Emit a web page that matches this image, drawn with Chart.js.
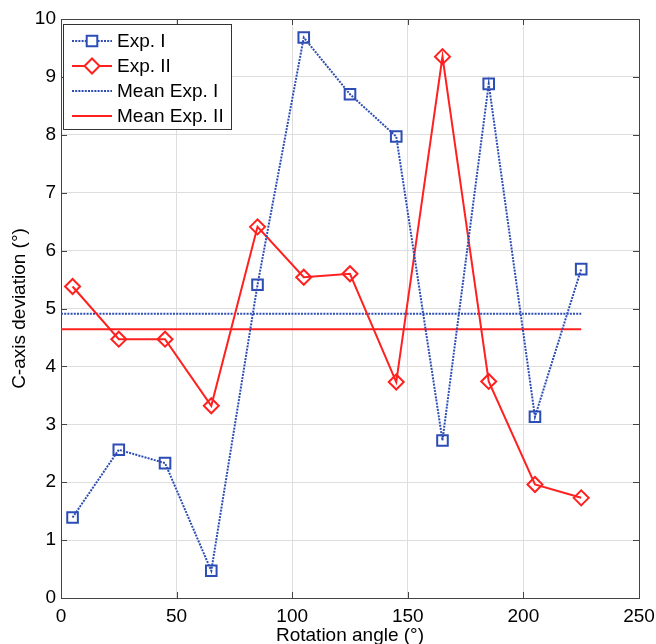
<!DOCTYPE html>
<html>
<head>
<meta charset="utf-8">
<title>C-axis deviation vs rotation angle</title>
<script src="https://cdn.jsdelivr.net/npm/chart.js@4"></script>
<style>
  html, body { margin: 0; padding: 0; background: #fff; }
  canvas { display: block; }
</style>
</head>
<body>
<canvas id="devChart" width="656" height="644"></canvas>
<script>
/* ── data ── */
const angles    = [5, 25, 45, 65, 85, 105, 125, 145, 165, 185, 205, 225];
const expI      = [1.39, 2.56, 2.33, 0.47, 5.41, 9.68, 8.70, 7.97, 2.72, 8.88, 3.13, 5.68];
const expII     = [5.38, 4.47, 4.47, 3.32, 6.41, 5.54, 5.60, 3.73, 9.35, 3.74, 1.96, 1.73];
const meanExpI  = 4.91;
const meanExpII = 4.64;
const meanSpan  = [0, 225];
const seriesLabels = ['Exp. I', 'Exp. II', 'Mean Exp. I', 'Mean Exp. II'];

const FONT  = "'Liberation Sans', Arial, sans-serif";
const BLUE  = '#2c4db5';
const RED   = '#ff2020';
const DOTS  = [2, 1.2];

const pts = (xs, ys) => xs.map((x, i) => ({ x: x, y: ys[i] }));

// frame + inward ticks (matlab style)
const framePlugin = {
  id: 'frame',
  beforeDatasetsDraw(chart) {
    const { ctx, chartArea: a, scales } = chart;
    const len = 6;
    ctx.save();
    ctx.strokeStyle = '#444';
    ctx.lineWidth = 1;
    ctx.beginPath();
    scales.x.ticks.forEach(t => {
      const px = Math.round(scales.x.getPixelForValue(t.value)) + 0.5;
      ctx.moveTo(px, a.bottom); ctx.lineTo(px, a.bottom - len);
      ctx.moveTo(px, a.top);    ctx.lineTo(px, a.top + len);
    });
    scales.y.ticks.forEach(t => {
      const py = Math.round(scales.y.getPixelForValue(t.value)) + 0.5;
      ctx.moveTo(a.left, py);  ctx.lineTo(a.left + len, py);
      ctx.moveTo(a.right, py); ctx.lineTo(a.right - len, py);
    });
    ctx.stroke();
    ctx.strokeRect(Math.round(a.left) + 0.5, Math.round(a.top) + 0.5,
                   Math.round(a.right - a.left), Math.round(a.bottom - a.top));
    ctx.restore();
  }
};

// legend box in the upper-left corner of the plot
const boxLegend = {
  id: 'boxLegend',
  afterDraw(chart) {
    const { ctx, chartArea: a } = chart;
    const x0 = a.left + 2, y0 = a.top + 5, w = 168, h = 105;
    ctx.save();
    ctx.fillStyle = '#fff';
    ctx.fillRect(x0, y0, w, h);
    ctx.strokeStyle = '#333';
    ctx.lineWidth = 1;
    ctx.strokeRect(x0 + 0.5, y0 + 0.5, w, h);
    ctx.font = '19px ' + FONT;
    ctx.textBaseline = 'middle';
    chart.data.datasets.forEach((ds, i) => {
      const cy = y0 + 17 + i * 25;
      const sx = x0 + 9, ex = x0 + 49, mx = (sx + ex) / 2;
      ctx.strokeStyle = ds.borderColor;
      ctx.lineWidth = ds.borderWidth;
      ctx.setLineDash(ds.borderDash || []);
      ctx.beginPath(); ctx.moveTo(sx, cy); ctx.lineTo(ex, cy); ctx.stroke();
      ctx.setLineDash([]);
      if (ds.pointRadius > 0) {
        ctx.fillStyle = '#fff';
        ctx.lineWidth = ds.pointBorderWidth;
        Chart.helpers.drawPoint(ctx, {
          pointStyle: ds.pointStyle, radius: ds.pointRadius,
          borderWidth: ds.pointBorderWidth, rotation: 0
        }, mx, cy);
      }
      ctx.fillStyle = '#000';
      ctx.fillText(ds.label, x0 + 54, cy + 1);
    });
    ctx.restore();
  }
};

new Chart(document.getElementById('devChart').getContext('2d'), {
  type: 'line',
  data: {
    datasets: [
      {
        label: seriesLabels[0], data: pts(angles, expI),
        borderColor: BLUE, borderWidth: 2, borderDash: DOTS,
        pointStyle: 'rect', pointRadius: 7.5, pointBorderWidth: 2,
        pointBorderColor: BLUE, pointBackgroundColor: 'transparent'
      },
      {
        label: seriesLabels[1], data: pts(angles, expII),
        borderColor: RED, borderWidth: 2,
        pointStyle: 'rectRot', pointRadius: 7.5, pointBorderWidth: 2,
        pointBorderColor: RED, pointBackgroundColor: 'transparent'
      },
      {
        label: seriesLabels[2], data: pts(meanSpan, [meanExpI, meanExpI]),
        borderColor: BLUE, borderWidth: 2, borderDash: DOTS, pointRadius: 0
      },
      {
        label: seriesLabels[3], data: pts(meanSpan, [meanExpII, meanExpII]),
        borderColor: RED, borderWidth: 2, pointRadius: 0
      }
    ]
  },
  options: {
    responsive: false, animation: false,
    layout: { padding: { top: 19, right: 17, left: 0, bottom: -3 } },
    plugins: { legend: { display: false }, tooltip: { enabled: false } },
    scales: {
      x: {
        type: 'linear', min: 0, max: 250,
        grid: { color: '#dedede', drawTicks: false },
        border: { display: false },
        ticks: { stepSize: 50, padding: 7, color: '#000', font: { family: FONT, size: 19 } },
        title: { display: true, text: 'Rotation angle (°)', color: '#000', padding: 0,
                 font: { family: FONT, size: 19 } },
        afterFit(s) { s.height = 49; s.paddingLeft = 0; s.paddingRight = 0; }
      },
      y: {
        min: 0, max: 10,
        grid: { color: '#dedede', drawTicks: false },
        border: { display: false },
        ticks: { stepSize: 1, padding: 5, color: '#000', font: { family: FONT, size: 19 } },
        title: { display: true, text: 'C-axis deviation (°)', color: '#000', padding: 8,
                 font: { family: FONT, size: 19 } },
        afterFit(s) { s.width = 61; s.paddingTop = 0; s.paddingBottom = 0; }
      }
    }
  },
  plugins: [framePlugin, boxLegend]
});
</script>
</body>
</html>
